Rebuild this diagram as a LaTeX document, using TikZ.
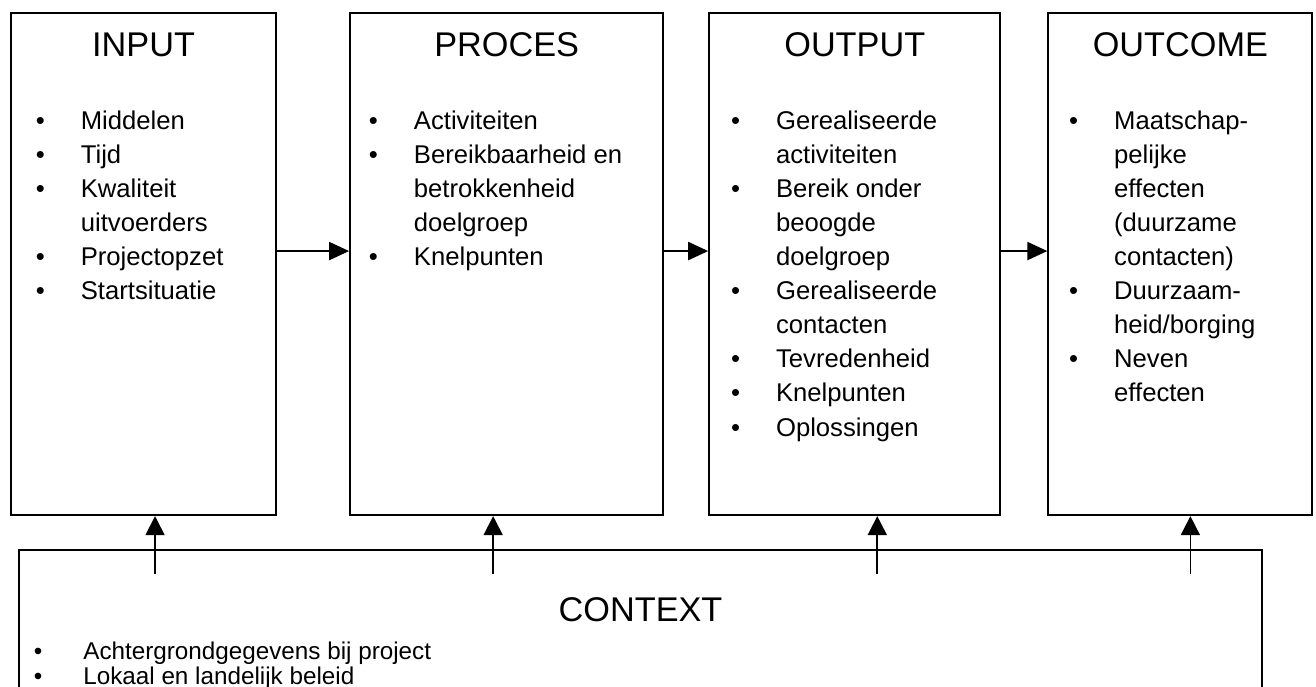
\documentclass[tikz,border=0pt]{standalone}
\usepackage{fontspec}
\setmainfont{Liberation Sans}
\usepackage{array}
\usetikzlibrary{arrows.meta}
\usetikzlibrary{positioning}
\usetikzlibrary{calc}

\newcommand{\itemfont}{\fontsize{14.6}{19.4}\selectfont}
\newcommand{\ctxfont}{\fontsize{13.8}{14.1}\selectfont}
\newcommand{\bl}{\textbullet &}

\begin{document}
\begin{tikzpicture}[node distance = 1cm, box/.style = {draw, line width = 1.2pt, minimum height = 10.04cm, inner sep = 0pt}, head/.style = {font = \fontsize{19.5}{23}\selectfont, inner sep = 0pt, anchor = base}, items/.style = {font = \itemfont, inner sep = 0pt, anchor = north west, align = left}, conn/.style = {line width = 1.2pt, -{Triangle[length = 0.4cm, width = 0.36cm]}}, feed/.style = {line width = 1pt, -{Triangle[length = 0.38cm, width = 0.38cm]}}]
	\useasboundingbox (0,0) rectangle (26.32,-13.74);
	\clip (0,0) rectangle (26.32,-13.74);
	% the four stages
	\node[box, minimum width = 5.3cm, anchor = north west] (input) at (0.2,-0.24) {};
	\node[box, minimum width = 6.26cm] (proces) [right = 1.44cm of input] {};
	\node[box, minimum width = 5.82cm] (output) [right = 0.88cm of proces] {};
	\node[box, minimum width = 5.28cm] (outcome) [right = 0.92cm of output] {};
	\node[box, minimum width = 24.86cm, minimum height = 4cm, anchor = north west] (context) [below right = 0.66cm and 0.16cm of input.south west] {};
	% headings
	\node[head] (inputT) at ([yshift = -0.9cm]input.north) {INPUT};
	\node[head] (procesT) at ([yshift = -0.9cm]proces.north) {PROCES};
	\node[head] (outputT) at ([yshift = -0.9cm]output.north) {OUTPUT};
	\node[head] (outcomeT) at ([yshift = -0.9cm]outcome.north) {OUTCOME};
	\node[head] (contextT) at ([yshift = -1.44cm]context.north) {CONTEXT};
	% lists
	\node[items] (inputL) at ([xshift = 0.51cm, yshift = -1.86cm]input.north west) {\begin{tabular}{@{}p{0.9cm}@{}l@{}}
		\bl Middelen\\ \bl Tijd\\ \bl Kwaliteit\\ & uitvoerders\\ \bl Projectopzet\\ \bl Startsituatie
	\end{tabular}};
	\node[items] (procesL) at ([xshift = 0.39cm, yshift = -1.86cm]proces.north west) {\begin{tabular}{@{}p{0.9cm}@{}l@{}}
		\bl Activiteiten\\ \bl Bereikbaarheid en\\ & betrokkenheid\\ & doelgroep\\ \bl Knelpunten
	\end{tabular}};
	\node[items] (outputL) at ([xshift = 0.45cm, yshift = -1.86cm]output.north west) {\begin{tabular}{@{}p{0.9cm}@{}l@{}}
		\bl Gerealiseerde\\ & activiteiten\\ \bl Bereik onder\\ & beoogde\\ & doelgroep\\ \bl Gerealiseerde\\ & contacten\\ \bl Tevredenheid\\ \bl Knelpunten\\ \bl Oplossingen
	\end{tabular}};
	\node[items] (outcomeL) at ([xshift = 0.43cm, yshift = -1.86cm]outcome.north west) {\begin{tabular}{@{}p{0.9cm}@{}l@{}}
		\bl Maatschap-\\ & pelijke\\ & effecten\\ & (duurzame\\ & contacten)\\ \bl Duurzaam-\\ & heid/borging\\ \bl Neven\\ & effecten
	\end{tabular}};
	\node[items, font = \ctxfont] (contextL) at ([xshift = 0.31cm, yshift = -1.85cm]context.north west) {\begin{tabular}{@{}p{0.99cm}@{}l@{}}
		\bl Achtergrondgegevens bij project\\ \bl Lokaal en landelijk beleid
	\end{tabular}};
	% flow between the stages
	\draw[conn] ([yshift = 0.26cm]input.east) -- ([yshift = 0.26cm]proces.west);
	\draw[conn] ([yshift = 0.26cm]proces.east) -- ([yshift = 0.26cm]output.west);
	\draw[conn] ([yshift = 0.26cm]output.east) -- ([yshift = 0.26cm]outcome.west);
	% context feeds every stage
	\coordinate (inputF) at ([xshift = 0.23cm, yshift = -1.16cm]input.south);
	\coordinate (procesF) at ([xshift = -0.27cm, yshift = -1.16cm]proces.south);
	\coordinate (outputF) at ([xshift = 0.45cm, yshift = -1.16cm]output.south);
	\coordinate (outcomeF) at ([xshift = 0.2cm, yshift = -1.16cm]outcome.south);
	\draw[feed] (inputF) -- (inputF |- input.south);
	\draw[feed] (procesF) -- (procesF |- proces.south);
	\draw[feed] (outputF) -- (outputF |- output.south);
	\draw[feed] (outcomeF) -- (outcomeF |- outcome.south);
\end{tikzpicture}
\end{document}
